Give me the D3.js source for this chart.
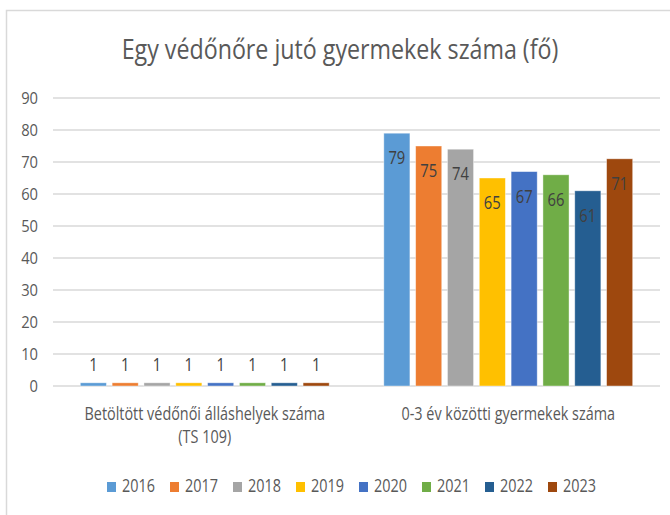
<!DOCTYPE html>
<html lang="hu">
<head>
<meta charset="UTF-8">
<title>Egy védőnőre jutó gyermekek száma</title>
<script src="https://cdnjs.cloudflare.com/ajax/libs/d3/7.8.5/d3.min.js"></script>
<style>
  body { margin: 0; background: #fff; }
  svg text { font-family: 'Open Sans', 'Liberation Sans', sans-serif; fill: #595959; }
</style>
</head>
<body>
<div id="chart"></div>
<script>
// data
const years = ["2016", "2017", "2018", "2019", "2020", "2021", "2022", "2023"];
const categories = ["staff", "children"];
const categoryLabels = [
  ["Betöltött védőnői álláshelyek száma", "(TS 109)"],
  ["0-3 év közötti gyermekek száma"]
];
const staffValues = [1, 1, 1, 1, 1, 1, 1, 1];
const childValues = [79, 75, 74, 65, 67, 66, 61, 71];
const yTicks = [0, 10, 20, 30, 40, 50, 60, 70, 80, 90];
const colors = ["#5B9BD5", "#ED7D31", "#A5A5A5", "#FFC000", "#4472C4", "#70AD47", "#255E91", "#9E480E"];
const title = "Egy védőnőre jutó gyermekek száma (fő)";

const width = 670, height = 515;
const svg = d3.select("#chart").append("svg")
  .attr("width", width).attr("height", height);

// chart frame (extends past the window on the right and bottom)
svg.append("rect")
  .attr("x", 6.5).attr("y", 10.5)
  .attr("width", 700).attr("height", 600)
  .attr("fill", "#fff").attr("stroke", "#D9D9D9").attr("stroke-width", 1.5);

// squeeze text horizontally to mimic the narrow look of the original
function squeeze(sel, k) {
  sel.each(function() {
    const w = this.getComputedTextLength();
    d3.select(this).attr("textLength", w * k).attr("lengthAdjust", "spacingAndGlyphs");
  });
}

const plot = { left: 53, right: 660, top: 98, bottom: 386 };

const y = d3.scaleLinear().domain([0, 90]).range([plot.bottom, plot.top]);
const x0 = d3.scaleBand().domain(categories).range([plot.left, plot.right]).padding(0);
const groupW = x0.bandwidth() * 0.82;
const x1 = d3.scaleBand().domain(years).range([0, groupW]).paddingInner(0.18).paddingOuter(0);

// gridlines + tick labels
svg.append("g").selectAll("line").data(yTicks).join("line")
  .attr("x1", plot.left).attr("x2", plot.right)
  .attr("y1", d => y(d)).attr("y2", d => y(d))
  .attr("stroke", "#D9D9D9").attr("stroke-width", 1.5);

svg.append("g").selectAll("text").data(yTicks).join("text")
  .attr("x", 38).attr("y", d => y(d) + 6)
  .attr("text-anchor", "end")
  .attr("font-size", 16)
  .text(d => d)
  .call(squeeze, 0.92);

// bars
const series = [staffValues, childValues];
const groups = svg.append("g").selectAll("g").data(categories).join("g")
  .attr("transform", d => `translate(${x0(d) + (x0.bandwidth() - groupW) / 2},0)`);

groups.selectAll("rect")
  .data((c, ci) => years.map((yr, i) => ({ yr, i, v: series[ci][i] })))
  .join("rect")
  .attr("x", d => x1(d.yr))
  .attr("y", d => y(d.v))
  .attr("width", x1.bandwidth())
  .attr("height", d => y(0) - y(d.v))
  .attr("fill", d => colors[d.i])
  .attr("stroke", "#fff").attr("stroke-opacity", 0.5).attr("stroke-width", 0.8);

// data labels: outside for the small series, inside for the big one
groups.selectAll("text.lbl")
  .data((c, ci) => years.map((yr, i) => ({ yr, i, v: series[ci][i], ci })))
  .join("text")
  .attr("class", "lbl")
  .attr("x", d => x1(d.yr) + x1.bandwidth() / 2)
  .attr("y", d => d.ci === 0 ? y(d.v) - 12 : y(d.v) + 31)
  .attr("text-anchor", "middle")
  .attr("font-size", 18.5)
  .style("fill", "#404040")
  .text(d => d.v)
  .call(squeeze, 0.8);

// category labels
categoryLabels.forEach((lines, ci) => {
  const cx = x0(categories[ci]) + x0.bandwidth() / 2;
  lines.forEach((ln, li) => {
    svg.append("text")
      .attr("x", cx).attr("y", 420 + li * 23)
      .attr("text-anchor", "middle")
      .attr("font-size", 18)
      .text(ln)
      .call(squeeze, 0.8);
  });
});

// title
svg.append("text")
  .attr("x", 340).attr("y", 59)
  .attr("text-anchor", "middle")
  .attr("font-size", 27)
  .text(title)
  .call(squeeze, 0.86);

// legend
const legendStep = 63;
const legendX = 107;
const leg = svg.append("g").selectAll("g").data(years).join("g")
  .attr("transform", (d, i) => `translate(${legendX + i * legendStep},482)`);
leg.append("rect").attr("width", 9).attr("height", 10).attr("fill", (d, i) => colors[i]);
leg.append("text").attr("x", 15).attr("y", 10)
  .attr("font-size", 18)
  .text(d => d)
  .call(squeeze, 0.8);
</script>
</body>
</html>
